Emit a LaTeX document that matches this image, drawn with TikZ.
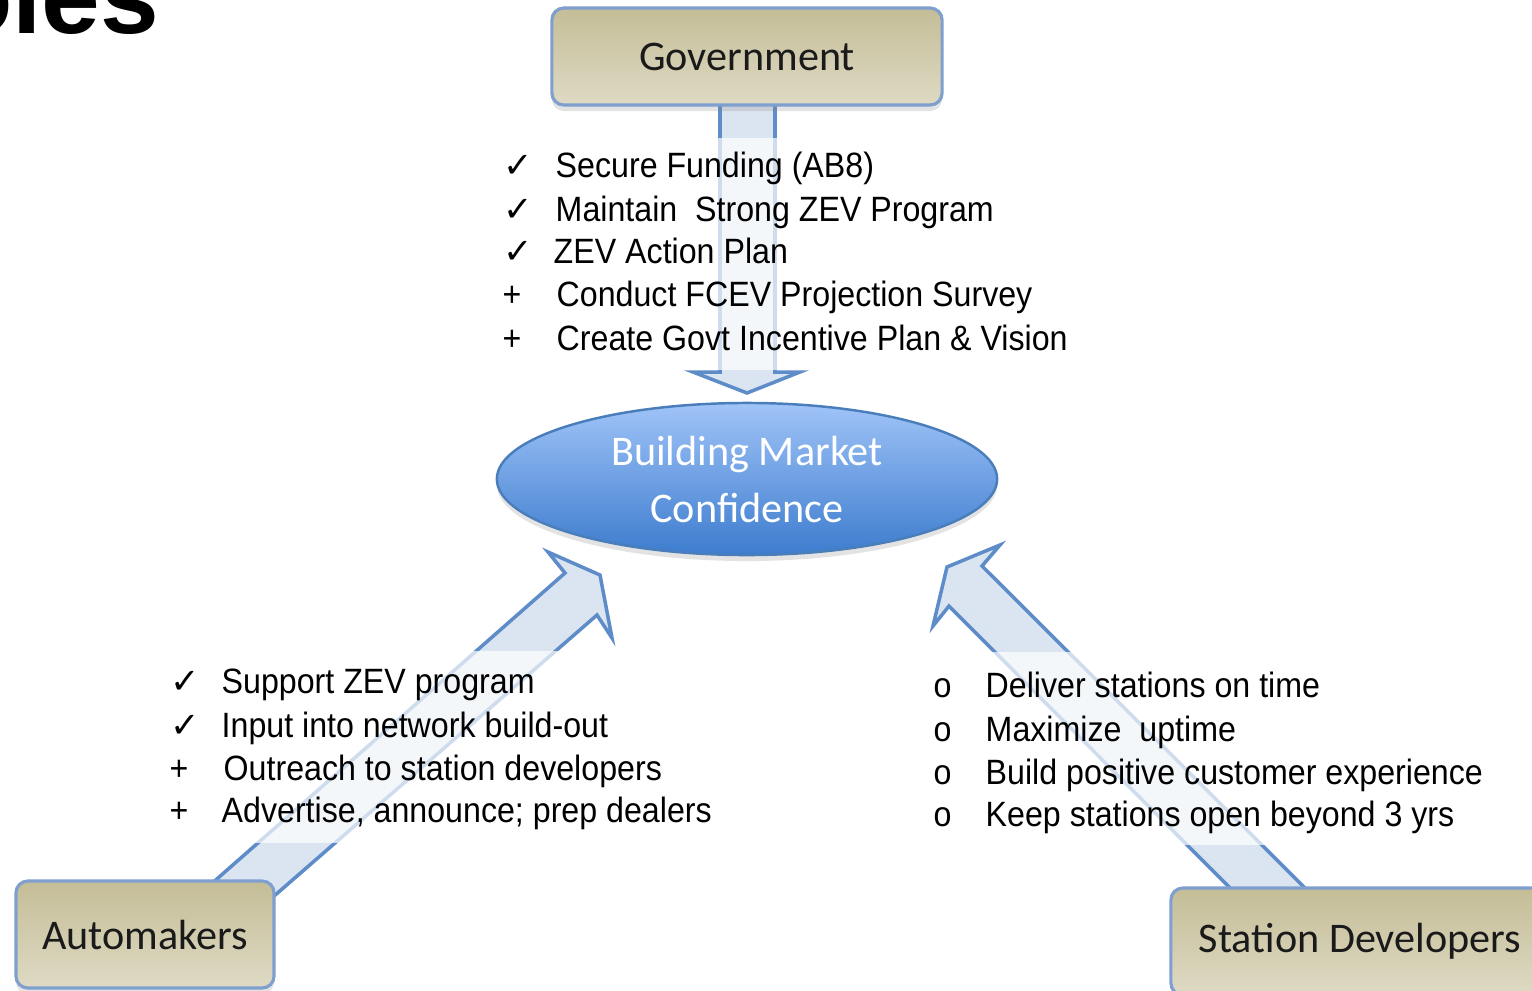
\documentclass[tikz,border=0pt]{standalone}
\usepackage{fontspec}
\setmainfont{Liberation Sans}
\newfontfamily\boxfont{Carlito}
\newfontfamily\listfont[FakeStretch=0.915]{Liberation Sans}
\newfontfamily\symfont{DejaVu Sans}
\usetikzlibrary{shadows,shapes.geometric}
\definecolor{tanTop}{HTML}{C4BD97}
\definecolor{tanBot}{HTML}{DEDAC4}
\definecolor{boxBorder}{HTML}{7F9FCF}
\definecolor{boxText}{HTML}{1A1A1A}
\definecolor{ellTop}{HTML}{A0C4F8}
\definecolor{ellBot}{HTML}{3D7CCE}
\definecolor{ellBorder}{HTML}{4A7EBB}
\definecolor{arrFill}{HTML}{DBE5F1}
\definecolor{arrBorder}{HTML}{5E8CC9}
\begin{document}
\begin{tikzpicture}[x=0.01cm,y=-0.01cm,
  tanbox/.style={rounded corners=0.12cm, draw=boxBorder, line width=0.9pt,
    top color=tanTop, bottom color=tanBot, text=boxText, inner sep=0pt,
    font=\boxfont\fontsize{12}{14}\selectfont,
    drop shadow={opacity=0.22, shadow xshift=0pt, shadow yshift=-0.06cm}},
  blockarrow/.style={draw=arrBorder, line width=1pt, fill=arrFill, line join=miter},
  fadebox/.style={fill=white, fill opacity=0.7, draw=none},
  item/.style={anchor=base west, inner sep=0pt, font=\listfont\fontsize{10}{12}\selectfont},
  bul/.style={anchor=base west, inner sep=0pt, font=\listfont\fontsize{10}{12}\selectfont}
]
\useasboundingbox (0,0) rectangle (1532,990);
\clip (0,0) rectangle (1532,990);
\fill[white] (0,0) rectangle (1532,990);

% title fragment
\node[anchor=base east, inner sep=0pt, font=\bfseries\fontsize{30}{30}\selectfont] (title) at (160,33) {Roles};

% block arrows
\draw[blockarrow] (720,90) -- (775,90) -- (775,372) -- (800,372) -- (747,393)
  -- (693,372) -- (720,372) -- cycle;
\draw[blockarrow] (193,900) -- (565,573) -- (548,552) -- (600,575) -- (612,638)
  -- (597,615) -- (258,910) -- cycle;
\draw[blockarrow] (1247,905) -- (949,606) -- (933,626) -- (947,567) -- (1000,545)
  -- (982,566) -- (1322,905) -- cycle;

% fading behind the lists
\path[fadebox] (495,138) rectangle (1080,370);
\path[fadebox] (160,651) rectangle (725,843);
\path[fadebox] (925,652) rectangle (1500,845);

% nodes
\node[tanbox, minimum width=3.9cm, minimum height=0.97cm] (gov) at (747,56.5) {Government};
\node[tanbox, minimum width=2.58cm, minimum height=1.07cm] (auto) at (145,934.5) {Automakers};
\node[tanbox, minimum width=3.78cm, minimum height=1.07cm] (stat) at (1360,941.5) {Station Developers};
\node[ellipse, draw=ellBorder, line width=0.7pt, top color=ellTop, bottom color=ellBot,
  minimum width=5cm, minimum height=1.52cm, inner sep=0pt, text=white, align=center,
  font=\boxfont\fontsize{12}{16.2}\selectfont,
  drop shadow={opacity=0.22, shadow xshift=0pt, shadow yshift=-0.06cm}] (bmc) at (747,479)
  {Building Market\\Confidence};

% government list
\node[bul] (g1b) at (503,177) {\symfont ✓};
\node[item] (g1) at (555,177) {Secure Funding (AB8)};
\node[bul] (g2b) at (503,221) {\symfont ✓};
\node[item] (g2) at (555,221) {Maintain\ \ Strong ZEV Program};
\node[bul] (g3b) at (503,263) {\symfont ✓};
\node[item] (g3) at (553,263) {ZEV Action Plan};
\node[bul] (g4b) at (502,306) {+};
\node[item] (g4) at (556,306) {Conduct FCEV Projection Survey};
\node[bul] (g5b) at (502,350) {+};
\node[item] (g5) at (556,350) {Create Govt Incentive Plan \& Vision};

% automakers list
\node[bul] (a1b) at (170,693) {\symfont ✓};
\node[item] (a1) at (221,693) {Support ZEV program};
\node[bul] (a2b) at (170,737) {\symfont ✓};
\node[item] (a2) at (221,737) {Input into network build-out};
\node[bul] (a3b) at (169,780) {+};
\node[item] (a3) at (223,780) {Outreach to station developers};
\node[bul] (a4b) at (169,822) {+};
\node[item] (a4) at (221,822) {Advertise, announce; prep dealers};

% station developers list
\node[bul] (s1b) at (933,697) {o};
\node[item] (s1) at (985,697) {Deliver stations on time};
\node[bul] (s2b) at (933,741) {o};
\node[item] (s2) at (985,741) {Maximize\ \ uptime};
\node[bul] (s3b) at (933,784) {o};
\node[item] (s3) at (985,784) {Build positive customer experience};
\node[bul] (s4b) at (933,826) {o};
\node[item] (s4) at (985,826) {Keep stations open beyond 3 yrs};
\end{tikzpicture}
\end{document}
